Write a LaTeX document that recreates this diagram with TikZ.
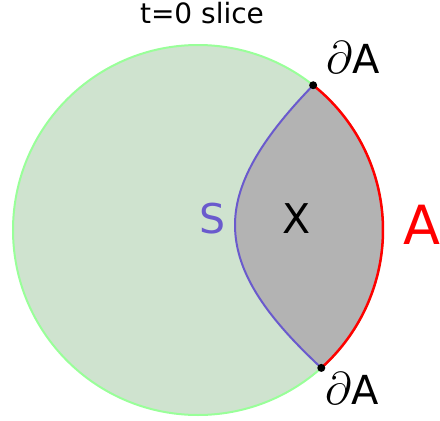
\documentclass[tikz,border=0pt]{standalone}
\usepackage{fix-cm}
\usepackage{fontspec}
\setmainfont{DejaVu Sans}
\usetikzlibrary{calc}
\definecolor{slicefill}{RGB}{207,227,207}
\definecolor{slicestroke}{RGB}{153,255,153}
\definecolor{regionfill}{RGB}{179,179,179}
\definecolor{surfblue}{RGB}{106,90,205}
\newcommand{\bdA}{{\fontsize{46}{48}\selectfont$\partial$}A}
\tikzset{
  lbl/.style={anchor=base west, inner sep=0pt, outer sep=0pt},
  enddot/.style={circle, fill=black, inner sep=0pt, minimum size=8pt}
}
\begin{document}
\begin{tikzpicture}[x=1pt,y=1pt]
\useasboundingbox (0,0) rectangle (440,-421);
\coordinate (O) at (198,-230);
\coordinate (T) at ($(O)+(51.5:185pt)$);
\coordinate (B) at ($(O)+(-48.2:185pt)$);
% slice
\filldraw[fill=slicefill, draw=slicestroke, line width=2pt] (O) circle[radius=185pt];
% region X
\fill[regionfill] (T) .. controls (265,-135) and (235,-180) .. (235,-225)
  .. controls (235,-275) and (270,-320) .. (B)
  arc[start angle=-48.2, end angle=51.5, radius=185pt] -- cycle;
% surface S
\draw[surfblue, line width=2pt] (T) .. controls (265,-135) and (235,-180) .. (235,-225)
  .. controls (235,-275) and (270,-320) .. (B);
% boundary region A
\draw[red, line width=2.5pt] (B) arc[start angle=-48.2, end angle=51.5, radius=185pt];
\node[enddot] (dT) at (T) {};
\node[enddot] (dB) at (B) {};
% labels
\node[anchor=base, inner sep=0pt, font=\fontsize{28}{30}\selectfont] (title) at (202,-23) {t=0 slice};
\node[lbl, font=\fontsize{40}{42}\selectfont] (dAt) at (326,-73) {\bdA};
\node[lbl, font=\fontsize{40}{42}\selectfont] (dAb) at (325,-404) {\bdA};
\node[lbl, text=surfblue, font=\fontsize{41}{43}\selectfont] (S) at (199,-233) {S};
\node[lbl, font=\fontsize{41}{43}\selectfont] (X) at (282,-233) {X};
\node[lbl, text=red, font=\fontsize{54}{56}\selectfont] (A) at (403,-244) {A};
\end{tikzpicture}
\end{document}
